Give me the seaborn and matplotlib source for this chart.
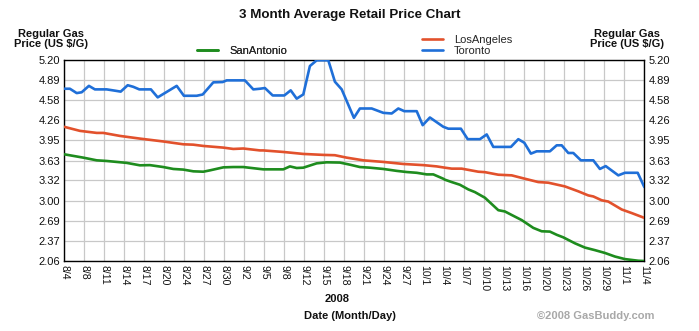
import matplotlib
matplotlib.use("Agg")
import matplotlib.pyplot as plt
import numpy as np
import pandas as pd
import seaborn as sns
from matplotlib.lines import Line2D

# ---- data (x = position in tick units, 0 = 8/4 ... 29 = 11/4) ----
date_labels = ["8/4", "8/8", "8/11", "8/14", "8/17", "8/20", "8/24", "8/27", "8/30",
               "9/2", "9/5", "9/8", "9/12", "9/15", "9/18", "9/21", "9/24", "9/27",
               "10/1", "10/4", "10/7", "10/10", "10/13", "10/16", "10/20", "10/23",
               "10/26", "10/29", "11/1", "11/4"]
y_ticks = [2.06, 2.37, 2.69, 3.00, 3.32, 3.63, 3.95, 4.26, 4.58, 4.89, 5.20]

toronto_x = [0, 0.28, 0.62, 0.87, 1.23, 1.53, 2.12, 2.53, 2.82, 3.17, 3.45, 3.75, 4.33,
             4.67, 5.62, 5.98, 6.62, 6.92, 7.45, 7.92, 8.12, 9.03, 9.45, 9.78, 10.03,
             10.42, 11.0, 11.32, 11.62, 11.95, 12.28, 12.62, 13.2, 13.53, 13.87, 14.48,
             14.78, 15.37, 15.95, 16.37, 16.7, 17.0, 17.62, 17.92, 18.28, 18.95, 19.2,
             19.83, 20.17, 20.78, 21.12, 21.45, 22.33, 22.7, 23.0, 23.33, 23.62, 24.28,
             24.62, 24.87, 25.2, 25.45, 25.83, 26.45, 26.78, 27.07, 27.7, 28.03, 28.67, 29.0]
toronto_y = [4.755, 4.755, 4.687, 4.70, 4.80, 4.745, 4.745, 4.725, 4.71, 4.81, 4.785,
             4.745, 4.745, 4.62, 4.80, 4.645, 4.645, 4.665, 4.855, 4.86, 4.886, 4.886,
             4.745, 4.755, 4.766, 4.65, 4.65, 4.73, 4.60, 4.666, 5.11, 5.20, 5.20, 4.865,
             4.745, 4.30, 4.446, 4.446, 4.378, 4.368, 4.446, 4.404, 4.404, 4.185, 4.305,
             4.16, 4.13, 4.13, 3.966, 3.966, 4.04, 3.845, 3.845, 3.966, 3.91, 3.74, 3.776,
             3.776, 3.87, 3.87, 3.75, 3.75, 3.635, 3.635, 3.50, 3.545, 3.40, 3.44, 3.44, 3.217]

la_x = [0, 0.78, 1.62, 1.95, 2.78, 3.78, 4.95, 5.95, 6.45, 6.95, 7.95, 8.45, 8.95, 9.78,
        9.95, 10.95, 11.95, 12.95, 13.53, 14.12, 14.95, 15.95, 16.95, 17.95, 18.62, 19.03,
        19.37, 19.87, 20.7, 21.03, 21.7, 22.37, 23.03, 23.7, 24.2, 25.03, 25.7, 26.2,
        26.45, 26.87, 27.2, 27.87, 28.37, 29.0]
la_y = [4.159, 4.096, 4.064, 4.064, 4.017, 3.975, 3.93, 3.886, 3.88, 3.86, 3.834, 3.813,
        3.82, 3.79, 3.79, 3.766, 3.735, 3.72, 3.715, 3.677, 3.635, 3.61, 3.578, 3.56,
        3.54, 3.52, 3.505, 3.505, 3.457, 3.45, 3.41, 3.40, 3.347, 3.295, 3.285, 3.227,
        3.15, 3.086, 3.07, 3.01, 2.99, 2.866, 2.81, 2.735]

sa_x = [0, 0.95, 1.62, 2.12, 2.62, 3.12, 3.78, 4.28, 4.95, 5.45, 5.95, 6.45, 6.95, 7.28,
        7.95, 8.45, 8.95, 9.78, 9.95, 10.95, 11.28, 11.62, 11.95, 12.62, 13.12, 13.78,
        14.28, 14.78, 15.28, 15.95, 16.62, 17.12, 17.62, 18.12, 18.45, 18.95, 19.03,
        19.37, 19.78, 20.2, 20.53, 21.03, 21.7, 22.03, 22.37, 22.87, 23.45, 23.87, 24.28,
        24.62, 24.95, 25.53, 26.03, 26.53, 27.03, 27.53, 28.03, 28.7, 29.0]
sa_y = [3.729, 3.677, 3.635, 3.625, 3.61, 3.595, 3.557, 3.56, 3.53, 3.50, 3.49, 3.463,
        3.457, 3.478, 3.525, 3.53, 3.53, 3.50, 3.494, 3.494, 3.54, 3.515, 3.52, 3.588,
        3.604, 3.60, 3.567, 3.53, 3.52, 3.50, 3.47, 3.452, 3.44, 3.415, 3.415, 3.347,
        3.332, 3.295, 3.253, 3.18, 3.138, 3.05, 2.855, 2.835, 2.78, 2.70, 2.578, 2.525,
        2.52, 2.47, 2.43, 2.337, 2.27, 2.23, 2.186, 2.13, 2.09, 2.064, 2.06]

colors = {"SanAntonio": "#1e8c1e", "LosAngeles": "#e2512c", "Toronto": "#1f6fd8"}

df = pd.concat([
    pd.DataFrame({"x": sa_x, "price": sa_y, "city": "SanAntonio"}),
    pd.DataFrame({"x": la_x, "price": la_y, "city": "LosAngeles"}),
    pd.DataFrame({"x": toronto_x, "price": toronto_y, "city": "Toronto"}),
])

sns.set_theme(style="white")
plt.rcParams["font.family"] = ["Liberation Sans", "DejaVu Sans"]

W, H = 699, 331
fig = plt.figure(figsize=(W / 100, H / 100), dpi=100)
fig.patch.set_facecolor("white")
ax = fig.add_axes([64.3 / W, 1 - 261 / H, 580 / W, 200.7 / H])

sns.lineplot(data=df, x="x", y="price", hue="city", palette=colors,
             estimator=None, sort=True, linewidth=1.9, legend=False, ax=ax, zorder=3)

ax.set_xlim(0, len(date_labels) - 1)
ax.set_ylim(y_ticks[0], y_ticks[-1])
ax.set_xticks(range(len(date_labels)))
ax.set_xticklabels(date_labels, rotation=270, fontsize=7.6)
ax.set_yticks(y_ticks)
ax.set_yticklabels([f"{v:.2f}" for v in y_ticks], fontsize=8)
ax.grid(True, color="#c8c8c8", linewidth=0.9)
ax.set_axisbelow(True)
for s in ax.spines.values():
    s.set_color("black")
    s.set_linewidth(1.0)
ax.tick_params(axis="both", length=0, pad=3, colors="#111111")
ax.tick_params(axis="x", pad=3)
ax.set_xlabel("")
ax.set_ylabel("")

ax2 = ax.twinx()
ax2.set_ylim(ax.get_ylim())
ax2.set_yticks(y_ticks)
ax2.set_yticklabels([f"{v:.2f}" for v in y_ticks], fontsize=8)
ax2.tick_params(axis="y", length=0, pad=3, colors="#111111")
ax2.grid(False)
for s in ax2.spines.values():
    s.set_visible(False)

def fx(px):
    return px / W

def fy(py):
    return 1 - py / H

fig.text(fx(350), fy(15), "3 Month Average Retail Price Chart", ha="center", va="center",
         fontsize=9.6, fontweight="bold", color="#111111")
for cx in (51, 627):
    fig.text(fx(cx), fy(39), "Regular Gas\nPrice (US $/G)", ha="center", va="center",
             fontsize=8, fontweight="bold", color="#111111", linespacing=1.08)
fig.text(fx(337), fy(299), "2008", ha="center", va="center", fontsize=8,
         fontweight="bold", color="#111111")
fig.text(fx(350), fy(316), "Date (Month/Day)", ha="center", va="center", fontsize=8,
         fontweight="bold", color="#111111")
fig.text(fx(596), fy(316), "\u00a92008 GasBuddy.com", ha="center", va="center",
         fontsize=8, fontweight="bold", color="#a8a8a8")

def handle(name):
    return Line2D([], [], color=colors[name], linewidth=1.9)

leg1 = fig.legend([handle("SanAntonio")], ["SanAntonio"], loc="center left",
                  bbox_to_anchor=(fx(197), fy(51)), frameon=False, fontsize=8,
                  handlelength=1.9, handletextpad=1.0, borderpad=0, borderaxespad=0)
leg2 = fig.legend([handle("LosAngeles"), handle("Toronto")], ["LosAngeles", "Toronto"],
                  loc="center left", bbox_to_anchor=(fx(422), fy(45.5)), frameon=False,
                  fontsize=8, handlelength=1.9, handletextpad=1.0, borderpad=0,
                  borderaxespad=0, labelspacing=0.05)
fig.add_artist(leg1)

fig.savefig("out.png", dpi=100)
